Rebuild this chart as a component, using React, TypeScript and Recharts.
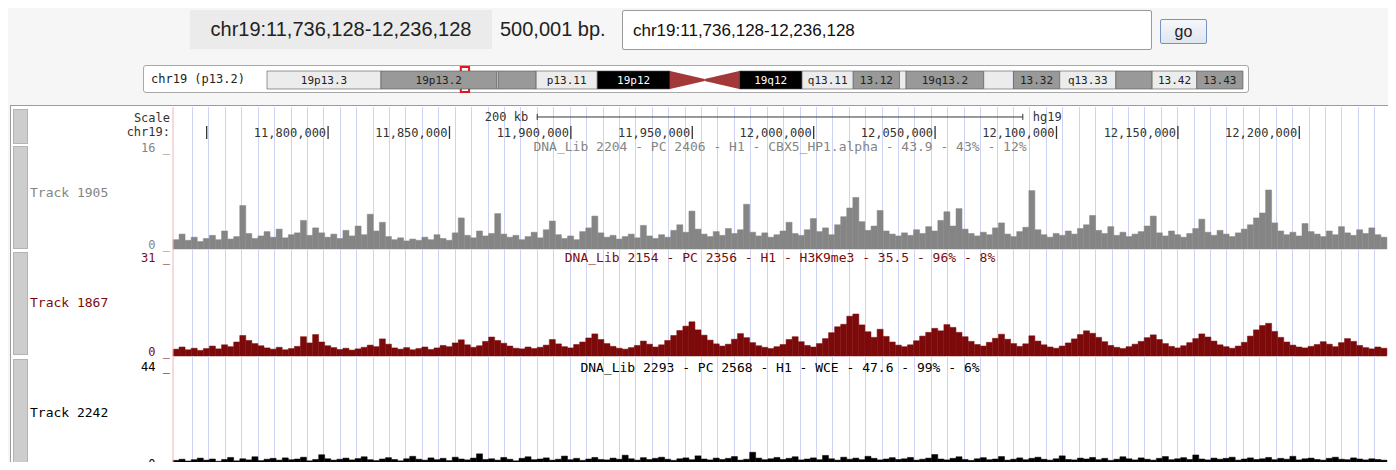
import React from "react";
import {
  BarChart, Bar, ComposedChart, XAxis, YAxis, CartesianGrid,
  ReferenceLine, ReferenceArea, LabelList, Label
} from "recharts";

// ---- window + scale ----
const WINDOW_START = 11736128;
const WINDOW_END = 12236128;
const posTicks = [11750000, 11800000, 11850000, 11900000, 11950000, 12000000, 12050000, 12100000, 12150000, 12200000];
const posLabels = ["", "11,800,000", "11,850,000", "11,900,000", "11,950,000", "12,000,000", "12,050,000", "12,100,000", "12,150,000", "12,200,000"];
const scaleBar = [11886128, 12086128];

// ---- chr19 cytobands (Mb) ----
const bandNames = ["p13.3", "p13.2", "p13.13", "p13.12", "p13.11", "p12", "p11", "q11", "q12", "q13.11", "q13.12", "q13.13", "q13.2", "q13.31", "q13.32", "q13.33", "q13.41", "q13.42", "q13.43"];
const bandSizes = [6.9, 7.0, 0.1, 2.3, 3.7, 4.4, 2.1, 2.1, 3.8, 3.1, 2.8, 0.4, 4.7, 1.8, 2.8, 3.4, 2.2, 2.7, 2.8];
const bandLabels = ["19p13.3", "19p13.2", "", "", "p13.11", "19p12", "", "", "19q12", "q13.11", "13.12", "", "19q13.2", "", "13.32", "q13.33", "", "13.42", "13.43"];
const bandStains = ["gneg", "gpos25", "gneg", "gpos25", "gneg", "gvar", "acenP", "acenQ", "gvar", "gneg", "gpos25", "gneg", "gpos25", "gneg", "gpos25", "gneg", "gpos25", "gneg", "gpos25"];

// ---- signal tracks (200 bins over the window) ----
const track1905 = [
  1.5, 2.4, 1.4, 1.9, 1.2, 1.7, 2.2, 1.5, 2.9, 1.6, 2.0, 7.0, 2.5, 1.7, 2.1, 2.8, 1.9, 3.2, 1.8, 2.3,
  2.6, 4.6, 2.2, 3.4, 2.6, 1.9, 2.4, 1.7, 3.0, 2.1, 3.7, 2.3, 5.6, 2.9, 4.3, 2.0, 1.5, 1.8, 1.3, 1.6,
  1.4, 1.9, 1.5, 2.3, 1.7, 1.4, 2.6, 5.0, 2.2, 1.8, 2.9, 2.1, 2.5, 5.7, 2.4, 1.9, 2.2, 1.5, 2.0, 2.7,
  1.8, 3.1, 4.5, 2.3, 1.7, 2.1, 1.5, 2.8, 3.4, 5.3, 2.6, 1.9, 2.2, 1.6, 2.0, 2.4, 1.8, 3.8, 2.1, 1.7,
  2.3, 1.9, 3.0, 3.9, 2.7, 6.1, 3.2, 2.4, 2.0, 2.8, 2.2, 3.3, 2.5, 3.1, 7.2, 2.7, 2.1, 2.6, 1.9, 2.3,
  2.9, 4.3, 2.5, 2.2, 3.1, 4.9, 2.8, 3.4, 2.3, 3.9, 5.2, 6.6, 8.3, 4.4, 3.0, 3.7, 6.2, 2.9, 2.4, 2.1,
  2.6, 2.2, 3.1, 2.5, 3.6, 2.9, 4.6, 6.0, 3.7, 6.5, 3.2, 2.5, 2.1, 2.7, 2.3, 3.4, 4.2, 2.4, 2.0, 2.8,
  3.5, 9.4, 3.1, 2.3, 1.9, 2.5, 2.2, 2.9, 2.4, 3.3, 3.9, 5.4, 3.0, 2.5, 3.6, 2.2, 2.7, 2.0, 2.4, 2.8,
  3.7, 5.3, 2.6, 2.1, 2.9, 2.3, 1.9, 2.5, 3.3, 4.8, 2.7, 2.2, 3.0, 2.4, 2.0, 2.6, 3.2, 3.9, 5.0, 5.8,
  9.5, 4.2, 2.9, 2.3, 2.7, 2.1, 4.1, 2.8, 2.4, 2.0, 2.9, 2.3, 3.6, 2.6, 2.2, 3.1, 2.5, 3.4, 2.3, 1.9,
];
const track1867 = [
  2.2, 2.9, 2.0, 2.5, 1.8, 2.4, 3.2, 2.3, 3.6, 3.0, 4.5, 6.6, 5.0, 4.0, 3.3, 2.6, 2.2, 2.8, 2.0, 2.4,
  3.1, 6.2, 4.2, 6.9, 4.5, 3.3, 2.7, 2.1, 2.5, 1.9, 2.3, 2.8, 3.5, 3.0, 5.5, 3.8, 2.6, 2.2, 2.7, 2.0,
  2.4, 2.9, 2.1, 2.6, 3.4, 3.0, 4.2, 5.2, 3.6, 2.8, 3.3, 4.7, 6.1, 5.0, 4.1, 3.2, 2.5, 2.3, 2.9, 2.4,
  2.8, 3.5, 5.3, 3.9, 3.0, 2.6, 3.7, 4.5, 5.8, 7.1, 5.3, 4.0, 3.1, 2.5, 2.2, 2.7, 3.4, 4.8, 3.8, 2.9,
  3.6, 5.0, 6.6, 8.2, 9.6, 11.0, 8.4, 6.7, 5.1, 3.9, 3.2, 3.8, 5.4, 7.2, 5.9, 4.3, 3.3, 2.8, 2.4, 3.0,
  3.7, 5.3, 6.2, 4.6, 3.4, 2.9, 4.0, 5.6, 7.5, 9.4, 10.2, 12.8, 13.5, 10.0, 7.8, 6.0, 8.6, 6.3, 4.5, 3.5,
  3.0, 3.6, 4.9, 6.4, 7.6, 8.9, 8.1, 10.1, 9.2, 7.6, 6.2, 4.7, 3.7, 3.2, 4.4, 5.7, 7.0, 5.4, 4.0, 3.1,
  3.9, 6.5, 4.8, 3.6, 2.9, 2.5, 3.2, 4.2, 5.5, 6.9, 8.1, 7.3, 6.0, 4.6, 3.4, 2.8, 2.4, 3.0, 3.8, 4.7,
  5.9, 6.8, 5.3, 4.0, 3.1, 2.6, 3.3, 4.3, 5.6, 7.1, 6.1, 4.8, 3.6, 3.0, 2.5, 3.2, 4.4, 6.4, 8.4, 9.8,
  10.5, 7.9, 6.0, 4.5, 3.5, 2.9, 2.6, 3.1, 3.7, 4.6, 3.8, 3.0, 4.3, 5.6, 4.7, 3.4, 2.7, 2.3, 2.9, 2.5,
];
const track2242 = [
  3.4, 3.9, 3.1, 3.7, 4.4, 3.5, 4.0, 3.0, 3.8, 4.7, 3.2, 4.1, 3.6, 5.0, 3.3, 3.9, 4.3, 3.5, 4.5, 3.7,
  4.0, 4.8, 3.2, 3.8, 5.9, 4.1, 3.5, 3.9, 4.4, 3.6, 4.2, 5.0, 3.7, 3.3, 4.0, 4.6, 3.8, 3.2, 4.1, 5.2,
  3.9, 3.5, 4.5, 3.7, 4.3, 3.3, 4.8, 4.0, 3.6, 4.4, 6.3, 3.8, 4.1, 3.5, 4.7, 3.9, 3.2, 4.3, 5.0, 3.7,
  4.0, 4.5, 3.5, 3.9, 5.3, 3.7, 4.3, 3.4, 4.0, 4.7, 3.8, 3.6, 4.4, 3.9, 5.7, 4.1, 3.5, 4.6, 3.8, 4.3,
  4.8, 3.9, 3.4, 4.1, 4.5, 3.7, 5.4, 4.0, 3.6, 4.4, 3.8, 4.3, 5.1, 3.5, 3.9, 7.0, 4.4, 3.7, 4.1, 4.7,
  3.8, 4.3, 5.0, 3.6, 4.0, 4.5, 3.7, 5.6, 4.1, 3.5, 4.8, 3.9, 4.4, 3.7, 5.2, 4.3, 3.6, 4.0, 4.6, 3.8,
  4.1, 4.7, 3.5, 3.9, 4.4, 6.0, 4.0, 3.6, 4.3, 5.0, 3.8, 3.4, 4.1, 4.6, 3.7, 4.0, 5.1, 3.5, 3.9, 4.5,
  3.7, 4.3, 4.8, 3.9, 3.5, 4.1, 5.4, 3.8, 3.6, 4.4, 4.0, 4.7, 3.7, 4.3, 3.4, 3.9, 5.0, 4.1, 3.6, 4.5,
  3.9, 3.5, 4.3, 5.1, 3.7, 4.1, 4.6, 3.8, 5.8, 4.0, 3.6, 4.4, 3.9, 4.3, 4.8, 3.5, 4.0, 4.5, 3.8, 4.1,
  4.7, 3.7, 4.3, 3.9, 5.2, 3.6, 4.1, 4.4, 3.8, 3.5, 4.3, 4.8, 3.9, 3.7, 4.5, 4.0, 3.6, 4.1, 3.8, 3.5,
];

const MONO = "'DejaVu Sans Mono', monospace";
const SANS = "'Liberation Sans', Arial, sans-serif";
const W = 1396;
const PLOT_LEFT = 173;
const PLOT_RIGHT = 1387;
const GUIDE = "#cfd3f3";
const STAIN: Record<string, string> = { gneg: "#ececec", gpos25: "#999999", gvar: "#000000", acenP: "#a33838", acenQ: "#a33838" };

// blue guide lines every ~16px like the browser draws them
const guideXs = () => {
  const xs: number[] = [];
  for (let x = PLOT_LEFT + 19; x < PLOT_RIGHT; x += 16.42) xs.push(Math.round(x) + 0.5);
  return xs;
};

function Track({ data, color, top, height, max, tickMax }: any) {
  const rows = data.map((v: number, i: number) => ({ i, v }));
  return (
    <div style={{ position: "absolute", left: 0, top, width: W, height }}>
      <BarChart width={W} height={height} data={rows} barCategoryGap="0%" barGap="0%"
        margin={{ top: 0, right: W - PLOT_RIGHT, bottom: 0, left: PLOT_LEFT - 60 }}>
        <CartesianGrid horizontal={false} stroke={GUIDE} verticalCoordinatesGenerator={guideXs} />
        <XAxis dataKey="i" hide />
        <YAxis width={60} domain={[0, max]} ticks={[0, tickMax]} interval={0}
          axisLine={{ stroke: "#f3b4b4" }} tickLine={false}
          tick={(p: any) => (
            <text x={PLOT_LEFT - 3} y={p.y + (p.payload.value === 0 ? 0 : 2)} textAnchor="end" fill={color} fontSize={12} fontFamily={MONO}>
              {`${p.payload.value} _`}
            </text>
          )} />
        <Bar dataKey="v" fill={color} stroke={color} strokeWidth={0.5} isAnimationActive={false} />
      </BarChart>
    </div>
  );
}

function ScaleRow() {
  const monoLabel = { fill: "#333", fontSize: 12, fontFamily: MONO };
  const rows = [{ x: WINDOW_START, y: 0 }, { x: WINDOW_END, y: 3 }];
  return (
    <div style={{ position: "absolute", left: 0, top: 107, width: W, height: 37 }}>
      <ComposedChart width={W} height={37} data={rows}
        margin={{ top: 0, right: W - PLOT_RIGHT, bottom: 0, left: PLOT_LEFT - 60 }}>
        <CartesianGrid horizontal={false} stroke={GUIDE} verticalCoordinatesGenerator={guideXs} />
        <XAxis type="number" dataKey="x" domain={[WINDOW_START, WINDOW_END]} allowDataOverflow hide />
        <YAxis width={60} type="number" dataKey="y" domain={[0, 3]} allowDataOverflow ticks={[0.97, 2.11]} interval={0}
          axisLine={{ stroke: "#f3b4b4" }} tickLine={false}
          tick={(p: any) => (
            <text x={PLOT_LEFT - 3} y={p.y} dy={4} textAnchor="end" {...monoLabel}>
              {p.payload.value > 2 ? "Scale" : "chr19:"}
            </text>
          )} />
        {posTicks.map((t, i) => (
          <ReferenceLine key={t} segment={[{ x: t, y: 0.41 }, { x: t, y: 1.46 }]} stroke="#333" strokeWidth={1.3}
            label={{ value: posLabels[i], position: "left", offset: 2, ...monoLabel }} />
        ))}
        <ReferenceLine segment={[{ x: scaleBar[0], y: 2.19 }, { x: scaleBar[1], y: 2.19 }]} stroke="#333">
          <Label value="200 kb" position="left" offset={9} {...monoLabel} />
          <Label value="hg19" position="right" offset={10} {...monoLabel} />
        </ReferenceLine>
        <ReferenceLine segment={[{ x: scaleBar[0], y: 1.95 }, { x: scaleBar[0], y: 2.45 }]} stroke="#333" />
        <ReferenceLine segment={[{ x: scaleBar[1], y: 1.95 }, { x: scaleBar[1], y: 2.45 }]} stroke="#333" />
      </ComposedChart>
    </div>
  );
}

function Ideogram() {
  const row: any = { chrom: "chr19" };
  bandNames.forEach((_, i) => { row["b" + i] = bandSizes[i]; });
  return (
    <div style={{ position: "absolute", left: 0, top: 66, width: W, height: 27 }}>
      <BarChart layout="vertical" width={W} height={27} data={[row]} barCategoryGap="0%"
        margin={{ top: 1, right: W - 1243, bottom: 1, left: 267 }}>
        <XAxis type="number" domain={[0, 59.1]} hide />
        <YAxis type="category" dataKey="chrom" hide />
        {bandNames.map((n, i) => {
          const stain = bandStains[i];
          const fill = STAIN[stain];
          const acen = stain.startsWith("acen");
          return (
            <Bar key={n} dataKey={"b" + i} stackId="c" fill={fill} barSize={18} isAnimationActive={false}
              stroke={acen ? "none" : "#555"} strokeWidth={0.6}
              shape={acen ? (p: any) => {
                const { x, y, width, height } = p;
                const pts = stain === "acenP"
                  ? `${x},${y} ${x + width},${y + height / 2 - 1} ${x + width},${y + height / 2 + 1} ${x},${y + height}`
                  : `${x},${y + height / 2 - 1} ${x + width},${y} ${x + width},${y + height} ${x},${y + height / 2 + 1}`;
                return <polygon points={pts} fill={fill} />;
              } : undefined}>
              <LabelList content={(p: any) => {
                const vb = p.viewBox || p;
                if (!bandLabels[i]) return null;
                return (
                  <text x={vb.x + vb.width / 2} y={vb.y + vb.height / 2} dy={4} textAnchor="middle"
                    fill={stain === "gvar" ? "#fff" : "#222"} fontSize={11} fontFamily={MONO}>
                    {bandLabels[i]}
                  </text>
                );
              }} />
            </Bar>
          );
        })}
        <ReferenceArea x1={WINDOW_START / 1e6} x2={WINDOW_END / 1e6} stroke="#e01818" strokeWidth={2} fill="none" fillOpacity={0} />
      </BarChart>
    </div>
  );
}

const abs = (o: any) => ({ position: "absolute" as const, ...o });

export default function App() {
  return (
    <div style={{ position: "relative", width: W, height: 470, margin: -8, background: "#f6f6f6", overflow: "hidden", fontFamily: SANS }}>
      <style>{`.recharts-surface{overflow:visible}`}</style>

      {/* position bar */}
      <div style={abs({ left: 190, top: 10, width: 302, height: 39, background: "#ebebeb", fontSize: 20, lineHeight: "39px", textAlign: "center", color: "#222" })}>
        chr19:11,736,128-12,236,128
      </div>
      <div style={abs({ left: 500, top: 10, height: 39, fontSize: 20, lineHeight: "39px", color: "#222" })}>500,001 bp.</div>
      <div style={abs({ left: 622, top: 10, width: 530, height: 40, background: "#fff", border: "1px solid #9a9a9a", borderRadius: 2, fontSize: 17, lineHeight: "40px", paddingLeft: 10, boxSizing: "border-box", color: "#111" })}>
        chr19:11,736,128-12,236,128
      </div>
      <div style={abs({ left: 1160, top: 19, width: 47, height: 25, boxSizing: "border-box", border: "1px solid #7493bd", borderRadius: 2, background: "linear-gradient(#f5f7fa, #dfe6ee)", fontSize: 16, lineHeight: "23px", textAlign: "center", color: "#222" })}>
        go
      </div>

      {/* ideogram */}
      <div style={abs({ left: 143, top: 65, width: 1106, height: 28, boxSizing: "border-box", background: "#fff", border: "1px solid #a8a8a8", borderRadius: 3 })} />
      <div style={abs({ left: 151, top: 71, fontSize: 12, lineHeight: "16px", fontFamily: MONO, color: "#222" })}>chr19 (p13.2)</div>
      <Ideogram />

      {/* browser image panel */}
      <div style={abs({ left: 10, top: 105, width: 1381, height: 380, background: "#fff", border: "1px solid #9c9c9c", boxSizing: "border-box" })} />
      {[[109, 35], [146, 103], [252, 103], [359, 120]].map(([t, h]) => (
        <div key={t} style={abs({ left: 13, top: t, width: 15, height: h, boxSizing: "border-box", background: "#cdcdcd", border: "1px solid #b4b4b4" })} />
      ))}

      <ScaleRow />
      <Track data={track1905} color="#858585" top={144} height={105} max={16.9} tickMax={16} />
      <Track data={track1867} color="#7d0a0a" top={249} height={107} max={34.4} tickMax={31} />
      <Track data={track2242} color="#000000" top={356} height={112} max={49.8} tickMax={44} />

      {/* track titles + names */}
      <div style={abs({ left: PLOT_LEFT, top: 139, width: PLOT_RIGHT - PLOT_LEFT, textAlign: "center", fontFamily: MONO, fontSize: 13, lineHeight: "16px", color: "#858585" })}>
        DNA_Lib 2204 - PC 2406 - H1 - CBX5_HP1.alpha - 43.9 - 43% - 12%
      </div>
      <div style={abs({ left: PLOT_LEFT, top: 250, width: PLOT_RIGHT - PLOT_LEFT, textAlign: "center", fontFamily: MONO, fontSize: 13, lineHeight: "16px", color: "#7d0a0a" })}>
        DNA_Lib 2154 - PC 2356 - H1 - H3K9me3 - 35.5 - 96% - 8%
      </div>
      <div style={abs({ left: PLOT_LEFT, top: 360, width: PLOT_RIGHT - PLOT_LEFT, textAlign: "center", fontFamily: MONO, fontSize: 13, lineHeight: "16px", color: "#000" })}>
        DNA_Lib 2293 - PC 2568 - H1 - WCE - 47.6 - 99% - 6%
      </div>
      <div style={abs({ left: 30, top: 185, fontFamily: MONO, fontSize: 13, lineHeight: "16px", color: "#858585" })}>Track 1905</div>
      <div style={abs({ left: 30, top: 295, fontFamily: MONO, fontSize: 13, lineHeight: "16px", color: "#7d0a0a" })}>Track 1867</div>
      <div style={abs({ left: 30, top: 405, fontFamily: MONO, fontSize: 13, lineHeight: "16px", color: "#000" })}>Track 2242</div>
    </div>
  );
}
